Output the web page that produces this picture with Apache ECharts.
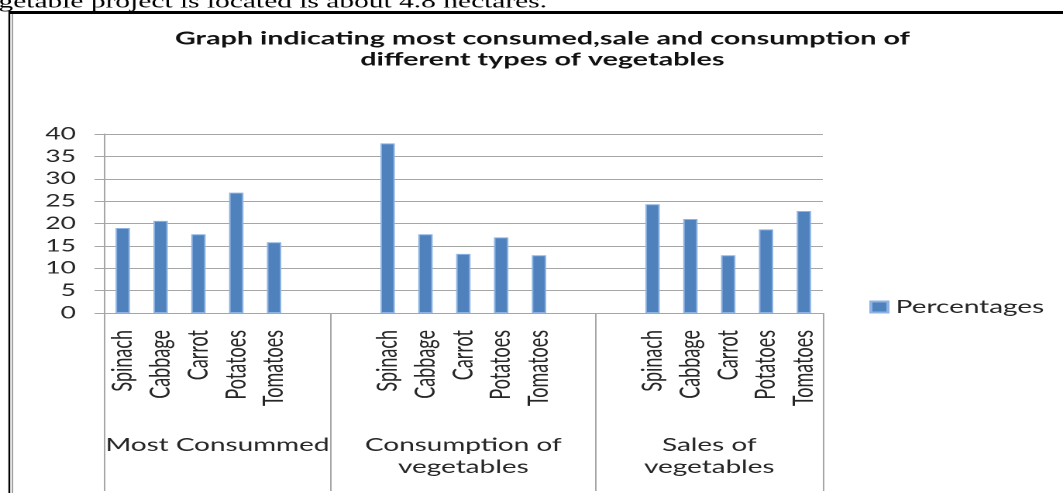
<!DOCTYPE html>
<html>
<head>
<meta charset="utf-8">
<script src="https://cdn.jsdelivr.net/npm/echarts@6/dist/echarts.min.js"></script>
<style>
  html, body { margin: 0; padding: 0; background: #fff; overflow: hidden; }
  /* the source picture is stretched sideways, so draw narrow and widen it */
  #chart { width: 686px; height: 493px; transform: scaleX(1.5496); transform-origin: 0 0; }
</style>
</head>
<body>
<div id="chart"></div>
<script>
const groupNames = ["Most Consummed", "Consumption of\nvegetables", "Sales of\nvegetables"];
const vegetables = ["Spinach", "Cabbage", "Carrot", "Potatoes", "Tomatoes"];
const mostConsumed = [19.0, 20.6, 17.6, 26.9, 15.8];
const consumption = [37.9, 17.6, 13.2, 16.9, 12.9];
const sales = [24.3, 21.0, 12.9, 18.7, 22.8];
const gap = ["", ""];
const yTicks = { min: 0, max: 40, step: 5 };

// Excel-style layout: five bars, two empty slots, five bars...
const slots = [...vegetables, ...gap, ...vegetables, ...gap, ...vegetables];
const values = [...mostConsumed, null, null, ...consumption, null, null, ...sales];

// group edges and centres, counted in slots
const groupEdges = [0, 6, 13, 19];
const groupCentres = [3, 9.5, 16];

const grey = "#a6a6a6";
const ink = "#262626";

const el = document.getElementById("chart");
const c = echarts.init(el, null, { devicePixelRatio: 2 });

c.setOption({
  animation: false,
  textStyle: { fontFamily: "Lato" },
  title: {
    text: "Graph indicating most consumed,sale and consumption of\ndifferent types of vegetables",
    left: 350,
    top: 28,
    padding: 0,
    textAlign: "center",
    textStyle: { fontFamily: "Lato", fontWeight: "bold", fontSize: 18.5, lineHeight: 21, color: "#111" }
  },
  legend: {
    data: ["Percentages"],
    left: 556,
    top: 293,
    icon: "rect",
    itemWidth: 11,
    itemHeight: 11,
    textStyle: { fontFamily: "Lato", fontSize: 18, color: ink }
  },
  grid: { left: 67, right: 155, top: 134, bottom: 180 },
  xAxis: [
    {
      type: "category",
      data: slots,
      axisLine: { lineStyle: { color: grey } },
      axisTick: { interval: 0, length: 104, lineStyle: { color: grey } },
      axisLabel: { interval: 0, rotate: 90, margin: 17, fontSize: 18, color: ink }
    },
    {
      type: "value",
      min: 0,
      max: 19,
      position: "bottom",
      axisLine: { show: false },
      splitLine: { show: false },
      axisTick: { show: true, customValues: groupEdges, length: 178, lineStyle: { color: grey } },
      axisLabel: {
        customValues: groupCentres,
        formatter: v => groupNames[groupCentres.indexOf(v)],
        margin: 121,
        fontSize: 18,
        lineHeight: 22,
        color: ink
      }
    }
  ],
  yAxis: {
    type: "value",
    min: yTicks.min,
    max: yTicks.max,
    interval: yTicks.step,
    axisLine: { show: true, lineStyle: { color: grey } },
    axisTick: { show: true, length: 6, lineStyle: { color: grey } },
    splitLine: { lineStyle: { color: grey } },
    axisLabel: { margin: 18, fontSize: 17, color: ink }
  },
  series: [
    {
      name: "Percentages",
      type: "bar",
      xAxisIndex: 0,
      data: values,
      barWidth: "38%",
      itemStyle: { color: "#4f81bd", borderColor: "#8db3e2", borderWidth: 1 }
    }
  ],
  graphic: [
    {
      type: "text",
      x: -1,
      y: 12,
      style: {
        text: "getable project is located is about 4.8 hectares.",
        font: '19px "Liberation Serif"',
        fill: "#000",
        verticalAlign: "bottom"
      }
    },
    { type: "line", shape: { x1: 6, y1: 12.5, x2: 700, y2: 12.5 }, style: { stroke: "#000", lineWidth: 3 } },
    { type: "line", shape: { x1: 6, y1: 11, x2: 6, y2: 500 }, style: { stroke: "#000", lineWidth: 1.2 } },
    { type: "line", shape: { x1: 8, y1: 14, x2: 8, y2: 500 }, style: { stroke: "#a0a0a0", lineWidth: 1 } }
  ]
});

window.addEventListener("resize", () => c.resize());
</script>
</body>
</html>
